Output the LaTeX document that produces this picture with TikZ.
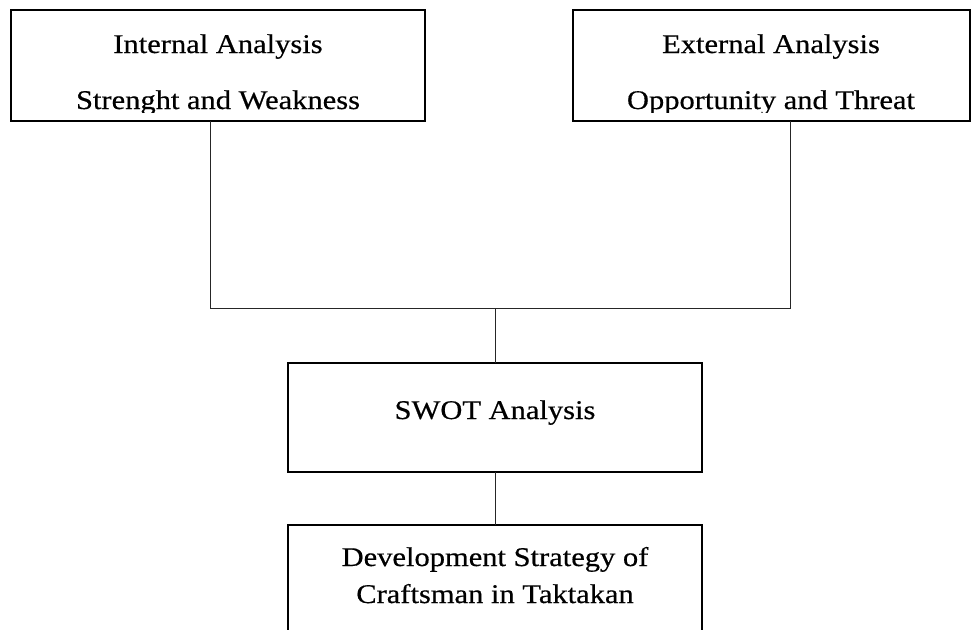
\documentclass[tikz,border=0pt]{standalone}
\usepackage{fontspec}
\setmainfont[FakeStretch=1.13,FakeBold=0.5]{Liberation Serif}
\begin{document}
\begin{tikzpicture}[x=1pt,y=-1pt,
  boxline/.style={draw=black,line width=1.7pt},
  conn/.style={draw=black!85,line width=1pt},
  lbl/.style={anchor=base,inner sep=0pt,font=\fontsize{27}{30}\selectfont}]
\useasboundingbox (0,0) rectangle (976,629);
% boxes
\draw[boxline] (11,10) rectangle (425,121);
\draw[boxline] (573,10) rectangle (970,121);
\draw[boxline] (288,363) rectangle (702,472);
\draw[boxline] (288,525) rectangle (702,640);
\coordinate (ib) at (210,121);
\coordinate (eb) at (790,121);
\coordinate (jl) at (210,308);
\coordinate (jr) at (790,308);
\coordinate (jm) at (495,308);
\coordinate (st) at (495,363);
\coordinate (sb) at (495,472);
\coordinate (dt) at (495,525);
% texts (clipped near box bottoms)
\begin{scope}
\clip (12,11) rectangle (424,112.5);
\node[lbl] (t1) at (218,53) {Internal Analysis};
\node[lbl] (t2) at (218,109) {Strenght and Weakness};
\end{scope}
\begin{scope}
\clip (574,11) rectangle (969,112.5);
\node[lbl] (t3) at (771,53) {External Analysis};
\node[lbl] (t4) at (771,109) {Opportunity and Threat};
\end{scope}
\node[lbl] (t5) at (495,419) {SWOT Analysis};
\node[lbl] (t6) at (495,566) {Development Strategy of};
\node[lbl] (t7) at (495,603) {Craftsman in Taktakan};
% connectors
\draw[conn] (ib) -- (jl) -- (jr) -- (eb);
\draw[conn] (jm) -- (st);
\draw[conn] (sb) -- (dt);
\end{tikzpicture}
\end{document}
